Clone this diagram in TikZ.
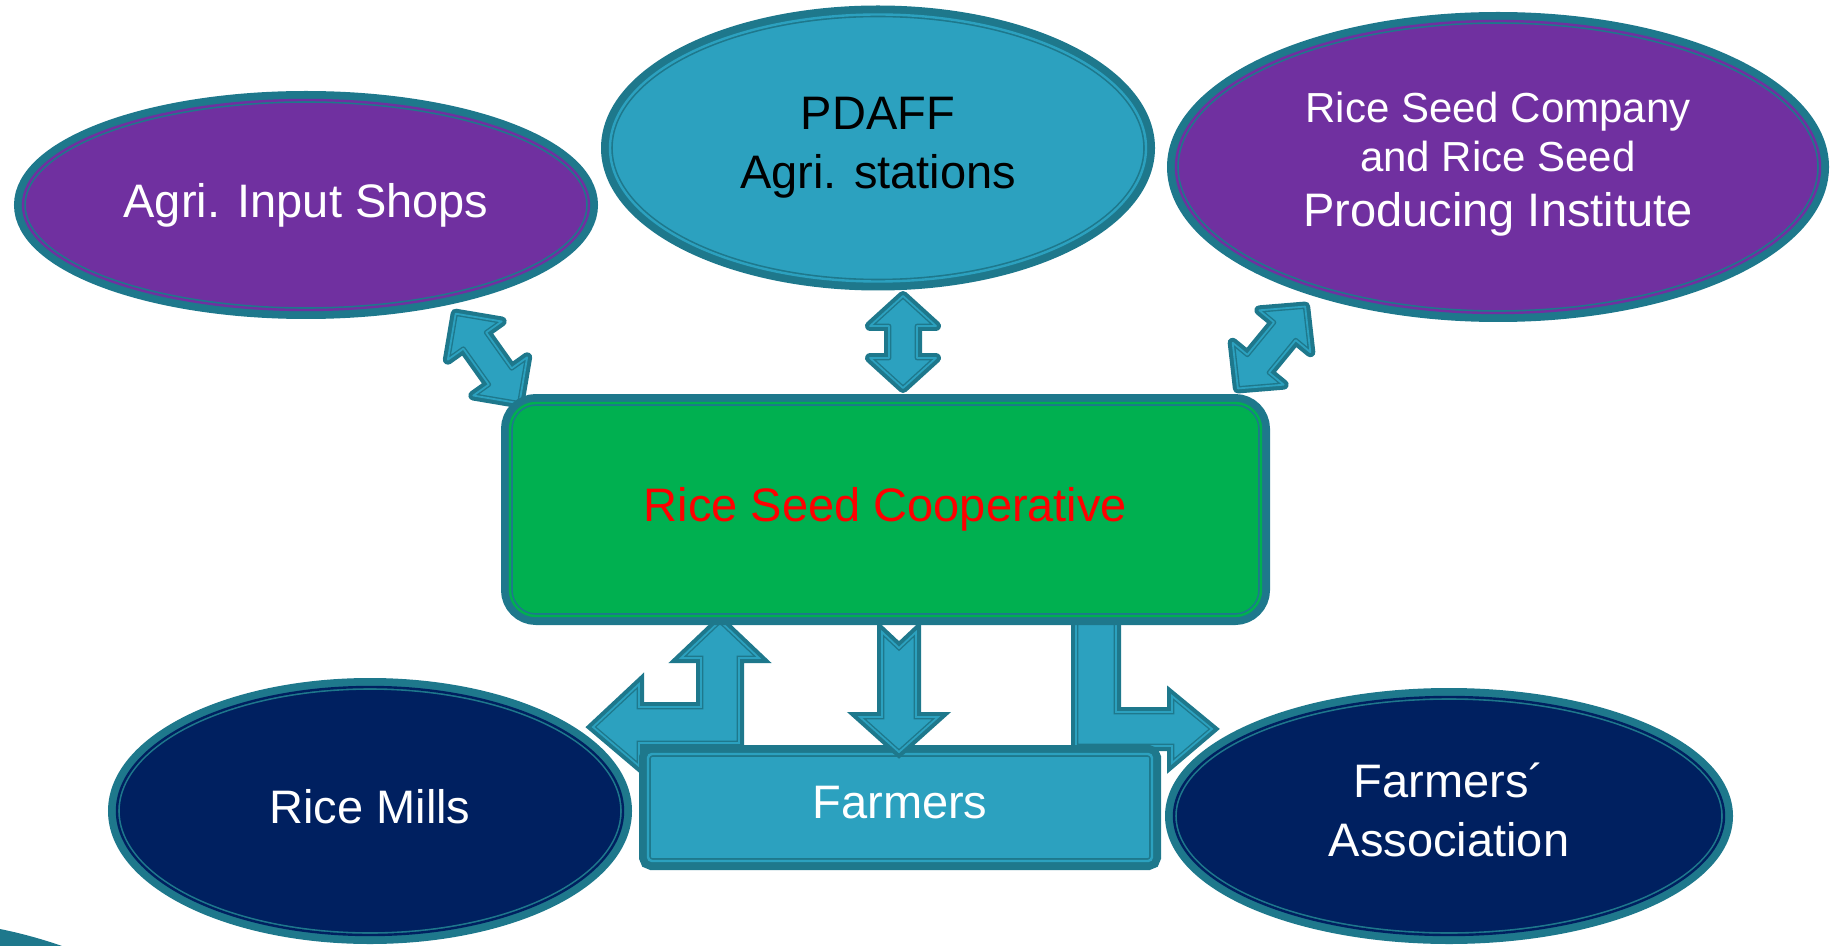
\documentclass[tikz,border=0pt]{standalone}
\usepackage{fontspec}
\setmainfont{Liberation Sans}
\usetikzlibrary{shapes.geometric}
\definecolor{dk}{RGB}{30,120,140}
\definecolor{lt}{RGB}{44,161,191}
\definecolor{pu}{RGB}{112,48,160}
\definecolor{nv}{RGB}{0,32,96}
\definecolor{gr}{RGB}{0,176,80}
\tikzset{
  bord/.style={preaction={draw=dk,line width=9pt}, fill=#1,
    postaction={draw=dk,double=#1,double distance=1.2pt,line width=0.8pt}},
  ell/.style={ellipse, bord=#1, inner sep=0pt},
  arr/.style={preaction={draw=dk,line width=5pt,line join=round}, fill=lt,
    postaction={draw=dk,double=lt,double distance=0.9pt,line width=0.7pt,line join=round}},
  arrb/.style={preaction={draw=dk,line width=5pt,line join=miter}, fill=lt,
    postaction={draw=dk,double=lt,double distance=0.9pt,line width=0.7pt,line join=miter}},
  txt/.style={font=\fontsize{23.5}{29.5}\selectfont, align=center},
}
\begin{document}
\begin{tikzpicture}[x=0.5pt,y=-0.5pt]
\useasboundingbox (0,0) rectangle (1839,946);
% corner swoosh
\fill[dk] (0,929) .. controls (20,933) and (42,939) .. (62,946) -- (0,946) -- cycle;

% top block arrows
\begin{scope}[shift={(487.5,358.5)},rotate=-54.6]
  \path[arr] (-55,0) -- (-22,33) -- (-22,14) -- (22,14) -- (22,33) -- (55,0)
    -- (22,-33) -- (22,-14) -- (-22,-14) -- (-22,-33) -- cycle;
\end{scope}
\begin{scope}[shift={(903,342)},rotate=90]
  \path[arr] (-46,0) -- (-16,33) -- (-16,14) -- (16,14) -- (16,33) -- (46,0)
    -- (16,-33) -- (16,-14) -- (-16,-14) -- (-16,-33) -- cycle;
\end{scope}
\begin{scope}[shift={(1271.5,347.5)},rotate=50.6]
  \path[arr] (-53,0) -- (-21,33) -- (-21,14) -- (21,14) -- (21,33) -- (53,0)
    -- (21,-33) -- (21,-14) -- (-21,-14) -- (-21,-33) -- cycle;
\end{scope}

% bottom block arrows
\path[arrb] (720,621) -- (759,658) -- (739,658) -- (739,743) -- (639,743)
  -- (639,766) -- (593,727) -- (639,684) -- (639,707) -- (701,707)
  -- (701,658) -- (681,658) -- cycle;
\path[arrb] (1076,618) -- (1116,618) -- (1116,712) -- (1172,712) -- (1172,696)
  -- (1212,729) -- (1172,763) -- (1172,746) -- (1076,746) -- cycle;

% nodes
\node[ell=pu, minimum width=283pt, minimum height=105pt, txt, text=white] (agri) at (306,205) {Agri. Input Shops};
\node[ell=lt, minimum width=268pt, minimum height=133.5pt, txt, text=black] (pdaff) at (878,148) {PDAFF\\Agri. stations};
\node[ell=pu, minimum width=322pt, minimum height=146pt, align=center, text=white,
  font=\fontsize{21}{24.5}\selectfont, text depth=8pt] (rsc) at (1498,167)
  {Rice Seed Company\\and Rice Seed\\[3pt]{\fontsize{23.5}{24.5}\selectfont Producing Institute}};
\node[ell=nv, minimum width=253pt, minimum height=124pt, txt, text=white, text depth=5pt] (mills) at (370,811) {Rice Mills};
\node[ell=nv, minimum width=275pt, minimum height=119pt, txt, text=white, text depth=6pt] (fa) at (1449,816) {Farmers\textasciiacute\\Association};
\node[rectangle, rounded corners=2pt, bord=lt, minimum width=252pt, minimum height=53.5pt, inner sep=0pt, txt, text=white, text depth=5pt] (farmers) at (900,807.5) {Farmers};

\path[arrb] (882,632) -- (899,648) -- (916,632) -- (916,717) -- (938,717)
  -- (899,752) -- (860,717) -- (882,717) -- cycle;

\node[rectangle, rounded corners=13pt, bord=gr, minimum width=375.5pt, minimum height=106.5pt, inner sep=0pt, txt, text=red] (coop) at (885.5,509.5) {Rice Seed Cooperative};
\end{tikzpicture}
\end{document}
